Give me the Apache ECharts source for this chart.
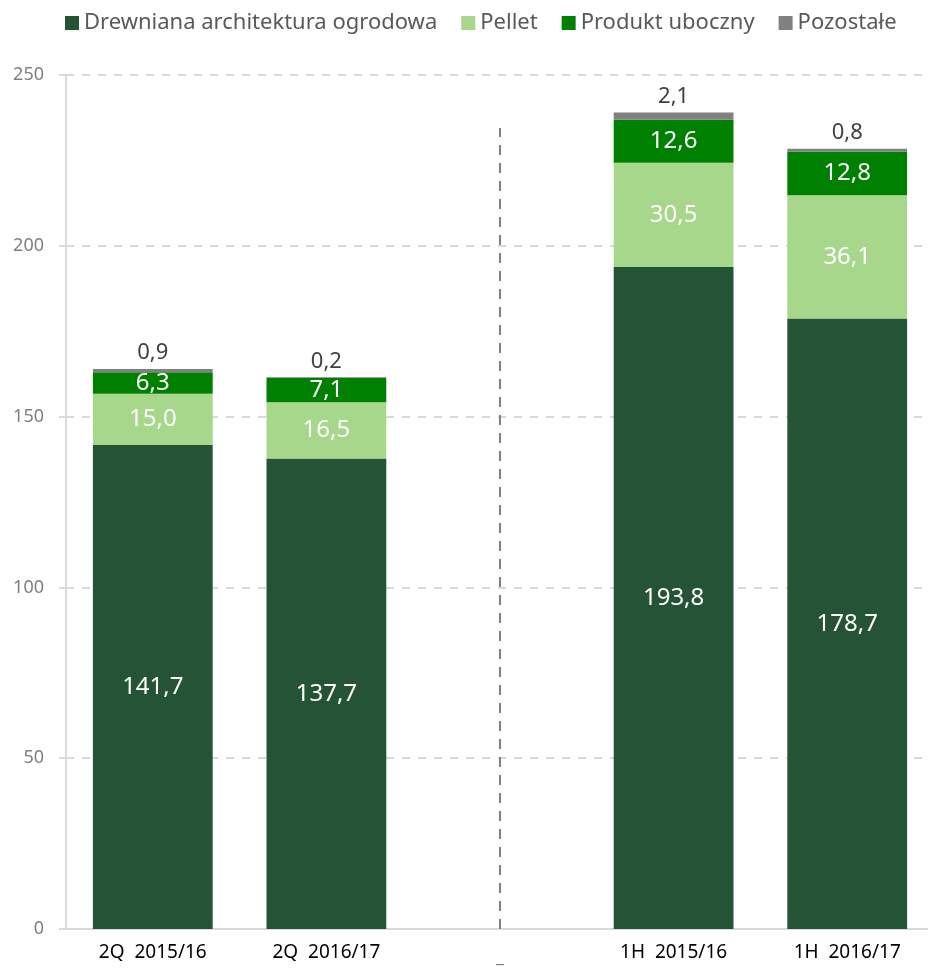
<!DOCTYPE html>
<html>
<head>
<meta charset="utf-8">
<script src="https://cdn.jsdelivr.net/npm/echarts@6/dist/echarts.min.js"></script>
<style>html,body{margin:0;padding:0;background:#fff}#c{width:928px;height:970px}</style>
</head>
<body>
<div id="c"></div>
<script>
var categories = ['2Q  2015/16', '2Q  2016/17', '_', '1H  2015/16', '1H  2016/17'];
var seriesNames = ['Drewniana architektura ogrodowa', 'Pellet', 'Produkt uboczny', 'Pozostałe'];
var drewniana = [141.7, 137.7, null, 193.8, 178.7];
var pellet = [15.0, 16.5, null, 30.5, 36.1];
var produkt = [6.3, 7.1, null, 12.6, 12.8];
var pozostale = [0.9, 0.2, null, 2.1, 0.8];
var yTicks = [0, 50, 100, 150, 200, 250];
var colors = ['#255336', '#a6d78b', '#008000', '#808080'];
var dividerTop = 234.5;

var fmt = function (p) { return p.value == null ? '' : p.value.toFixed(1).replace('.', ','); };
var font = '"Noto Sans", "Open Sans", sans-serif';

function mk(name, data, idx, top) {
  var s = {
    name: name, type: 'bar', stack: 'a', data: data, barWidth: '69%',
    itemStyle: { color: colors[idx] },
    label: top ? { show: true, position: 'top', distance: 5, color: '#404040', fontSize: 22, fontFamily: font, formatter: fmt }
               : { show: true, position: 'inside', color: '#fff', fontSize: 24, fontFamily: font, formatter: fmt },
    emphasis: { disabled: true }
  };
  return s;
}
var s0 = mk(seriesNames[0], drewniana, 0, false);
s0.markLine = {
  silent: true, symbol: 'none', label: { show: false },
  lineStyle: { color: '#808080', type: [10, 8], width: 2 },
  data: [[{ coord: [2, 0] }, { coord: [2, dividerTop] }]]
};

var chart = echarts.init(document.getElementById('c'));
chart.setOption({
  animation: false,
  textStyle: { fontFamily: font },
  color: colors,
  legend: {
    top: 7, left: 60, itemWidth: 14, itemHeight: 14, itemGap: 24,
    icon: 'rect',
    textStyle: { fontSize: 22, color: '#595959', fontFamily: font },
    data: seriesNames
  },
  grid: { left: 66, right: -6, top: 75, bottom: 41, containLabel: false, outerBoundsMode: 'none' },
  xAxis: {
    type: 'category', data: categories,
    axisLine: { lineStyle: { color: '#d9d9d9', width: 2 } },
    axisTick: { show: false },
    axisLabel: {
      margin: 14, fontSize: 19, color: '#000', fontFamily: font, interval: 0,
      formatter: function (v) { return v === '_' ? '{u|_}' : v; },
      rich: { u: { color: '#808080', fontSize: 18, padding: [5, 0, 0, 0] } }
    }
  },
  yAxis: {
    type: 'value', min: yTicks[0], max: yTicks[yTicks.length - 1], interval: 50,
    axisLine: { show: true, lineStyle: { color: '#d9d9d9', width: 2 } },
    axisTick: { show: true, length: 7, lineStyle: { color: '#d9d9d9', width: 2 } },
    axisLabel: { margin: 22, fontSize: 18, color: '#7f7f7f', fontFamily: font },
    splitLine: { lineStyle: { color: '#d9d9d9', type: [8, 8], width: 2 } }
  },
  series: [s0, mk(seriesNames[1], pellet, 1, false), mk(seriesNames[2], produkt, 2, false), mk(seriesNames[3], pozostale, 3, true)]
});
</script>
</body>
</html>
